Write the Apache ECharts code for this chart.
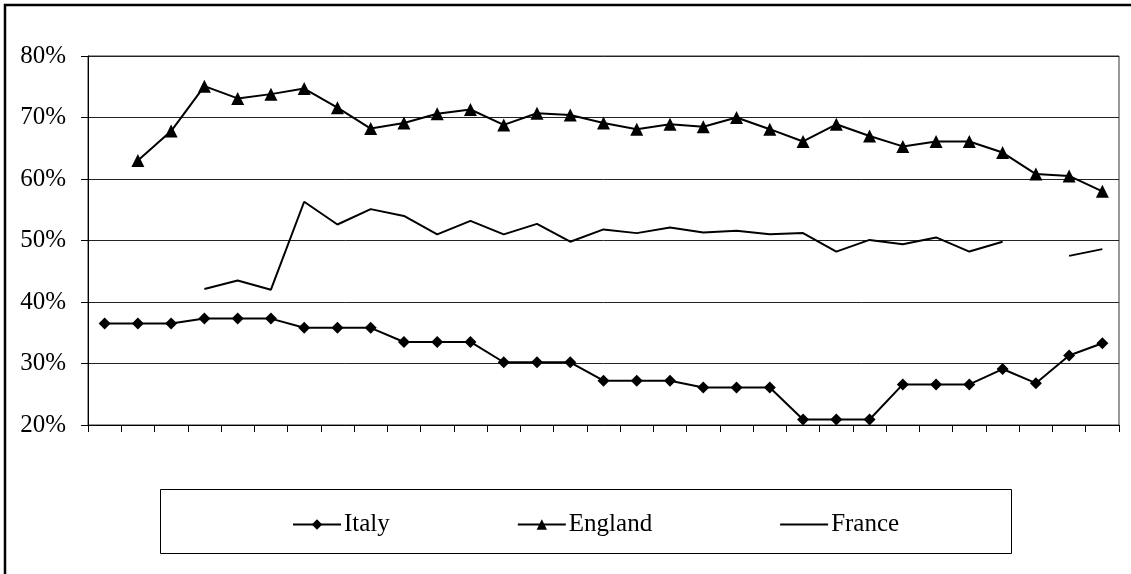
<!DOCTYPE html>
<html>
<head>
<meta charset="utf-8">
<script src="https://cdn.jsdelivr.net/npm/echarts@6/dist/echarts.min.js"></script>
<style>html,body{margin:0;padding:0;background:#fff;}#main{width:1131px;height:574px;}</style>
</head>
<body>
<div id="main"></div>
<script>
var categories = ['1','2','3','4','5','6','7','8','9','10','11','12','13','14','15','16','17','18','19','20','21','22','23','24','25','26','27','28','29','30','31'];
var italy = [36.5,36.5,36.5,37.3,37.3,37.3,35.8,35.8,35.8,33.5,33.5,33.5,30.2,30.2,30.2,27.2,27.2,27.2,26.1,26.1,26.1,20.9,20.9,20.9,26.6,26.6,26.6,29.1,26.8,31.3,33.3];
var england = [null,63.0,67.8,75.1,73.1,73.8,74.7,71.6,68.2,69.1,70.6,71.3,68.8,70.7,70.4,69.1,68.1,68.9,68.5,70.0,68.1,66.1,68.9,67.0,65.3,66.1,66.1,64.3,60.8,60.5,58.0];
var france = [null,null,null,42.1,43.5,42.0,56.3,52.6,55.1,54.0,51.0,53.2,51.0,52.7,49.8,51.8,51.2,52.1,51.3,51.6,51.0,51.2,48.2,50.1,49.4,50.5,48.2,49.8,null,47.5,48.6];
var yTicks = {min: 20, max: 80, step: 10};

var FONT = "'Liberation Serif','Times New Roman',serif";
var chart = echarts.init(document.getElementById('main'), null, {renderer: 'canvas'});
chart.setOption({
  animation: false,
  backgroundColor: '#fff',
  textStyle: {fontFamily: FONT},
  graphic: [
    {type: 'rect', shape: {x: 5, y: 5, width: 1140, height: 600}, style: {fill: 'none', stroke: '#000', lineWidth: 2.5}, z: 0},
    {type: 'rect', shape: {x: 160.5, y: 489.5, width: 851, height: 64}, style: {fill: 'none', stroke: '#000', lineWidth: 1}, z: 0}
  ],
  grid: {left: 88, right: 12, top: 56, bottom: 149, show: true, borderColor: '#333', borderWidth: 1, backgroundColor: 'transparent'},
  legend: {
    left: 287, top: 507, itemWidth: 48, itemHeight: 13, itemGap: 127,
    textStyle: {fontFamily: FONT, fontSize: 25, color: '#000', padding: [0,0,0,-2]},
    data: ['Italy', 'England', {name: 'France', itemStyle: {opacity: 0}}]
  },
  xAxis: {
    type: 'category', data: categories, boundaryGap: true,
    axisLine: {lineStyle: {color: '#000', width: 1}},
    axisTick: {show: true, interval: 0, length: 7, lineStyle: {color: '#000'}},
    axisLabel: {show: false},
    splitLine: {show: false}
  },
  yAxis: {
    type: 'value', min: yTicks.min, max: yTicks.max, interval: yTicks.step,
    axisLine: {show: true, lineStyle: {color: '#000', width: 1}},
    axisTick: {show: true, length: 7, lineStyle: {color: '#000'}},
    axisLabel: {formatter: '{value}%', fontFamily: FONT, fontSize: 25, color: '#000', margin: 22},
    splitLine: {show: true, lineStyle: {color: '#222', width: 1}}
  },
  series: [
    {name: 'Italy', type: 'line', data: italy, symbol: 'diamond', symbolSize: 12, showAllSymbol: true,
     lineStyle: {color: '#000', width: 2}, itemStyle: {color: '#000'}, connectNulls: false},
    {name: 'England', type: 'line', data: england, symbol: 'triangle', symbolSize: 13, showAllSymbol: true,
     lineStyle: {color: '#000', width: 2}, itemStyle: {color: '#000'}, connectNulls: false},
    {name: 'France', type: 'line', data: france, symbol: 'none', showSymbol: false,
     lineStyle: {color: '#000', width: 2}, itemStyle: {color: '#000'}, connectNulls: false}
  ]
});
</script>
</body>
</html>
